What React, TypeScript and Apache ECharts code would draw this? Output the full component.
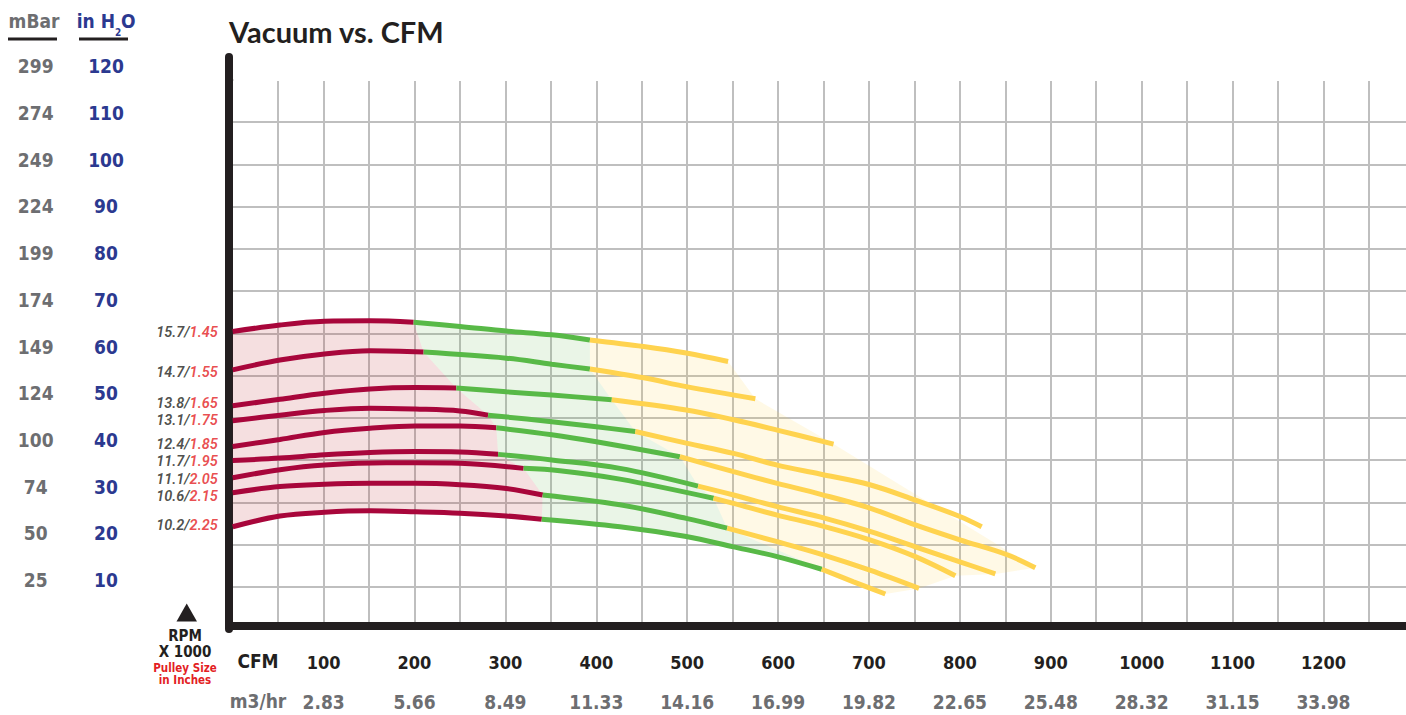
import React, { useEffect, useRef } from 'react';
import * as echarts from 'echarts';

// ---------- data ----------
const cfmTicks = [100, 200, 300, 400, 500, 600, 700, 800, 900, 1000, 1100, 1200];
const cfmLabels = ['100', '200', '300', '400', '500', '600', '700', '800', '900', '1000', '1100', '1200'];
const m3Labels = ['2.83', '5.66', '8.49', '11.33', '14.16', '16.99', '19.82', '22.65', '25.48', '28.32', '31.15', '33.98'];
const inH2OTicks = [10, 20, 30, 40, 50, 60, 70, 80, 90, 100, 110, 120];
const inH2OLabels = ['10', '20', '30', '40', '50', '60', '70', '80', '90', '100', '110', '120'];
const mBarLabels = ['25', '50', '74', '100', '124', '149', '174', '199', '224', '249', '274', '299'];
const rpmLabels = ['15.7', '14.7', '13.8', '13.1', '12.4', '11.7', '11.1', '10.6', '10.2'];
const pulleyLabels = ['1.45', '1.55', '1.65', '1.75', '1.85', '1.95', '2.05', '2.15', '2.25'];

// [CFM, inH2O] per curve (top to bottom)
const redSegments = [
  [[0, 63.2], [52, 64.6], [101, 65.4], [151, 65.5], [199, 65.2]],
  [[0, 55.0], [52, 57.1], [101, 58.4], [151, 59.1], [210, 58.8]],
  [[0, 47.3], [52, 48.7], [101, 50.0], [151, 50.9], [201, 51.2], [246, 51.1]],
  [[0, 44.1], [52, 45.3], [101, 46.3], [151, 46.8], [201, 46.6], [250, 46.2], [281, 45.3]],
  [[0, 38.6], [52, 40.1], [101, 41.6], [151, 42.5], [201, 43.0], [250, 43.0], [290, 42.6]],
  [[0, 35.6], [52, 36.1], [101, 36.8], [151, 37.3], [201, 37.5], [250, 37.4], [292, 36.9]],
  [[0, 31.9], [52, 33.6], [101, 34.6], [169, 35.1], [201, 35.1], [250, 35.0], [320, 33.9]],
  [[0, 28.7], [52, 30.0], [101, 30.5], [151, 30.7], [201, 30.7], [250, 30.4], [301, 29.6], [341, 28.2]],
  [[0, 21.4], [52, 23.7], [101, 24.5], [151, 24.8], [201, 24.6], [250, 24.3], [301, 23.7], [340, 23.0]],
];
const greenSegments = [
  [[199, 65.2], [250, 64.3], [301, 63.3], [351, 62.5], [393, 61.4]],
  [[210, 58.8], [301, 57.5], [351, 56.2], [393, 55.2]],
  [[246, 51.1], [301, 50.3], [351, 49.6], [417, 48.6]],
  [[281, 45.3], [351, 43.9], [400, 42.8], [443, 41.8]],
  [[290, 42.6], [351, 41.1], [400, 39.6], [492, 36.4]],
  [[292, 36.9], [351, 35.7], [426, 33.9], [512, 30.1]],
  [[320, 33.9], [360, 33.4], [426, 31.6], [529, 27.5]],
  [[341, 28.2], [426, 26.1], [499, 23.2], [544, 21.1]],
  [[340, 23.0], [426, 21.4], [499, 19.3], [551, 17.1], [599, 15.0], [648, 12.3]],
];
const yellowSegments = [
  [[393, 61.4], [452, 60.0], [499, 58.6], [545, 56.8]],
  [[393, 55.2], [452, 53.3], [499, 51.4], [575, 48.8]],
  [[417, 48.6], [499, 46.4], [551, 44.3], [599, 42.1], [661, 39.1]],
  [[443, 41.8], [499, 39.3], [551, 37.1], [599, 34.6], [646, 32.7], [701, 30.4], [751, 27.1], [800, 23.6], [824, 21.4]],
  [[492, 36.4], [551, 33.2], [599, 30.7], [646, 28.4], [701, 25.4], [751, 21.8], [800, 18.6], [852, 15.4], [883, 12.6]],
  [[512, 30.1], [551, 28.2], [599, 25.7], [646, 23.5], [701, 20.4], [751, 17.1], [800, 13.9], [839, 11.3]],
  [[529, 27.5], [551, 26.4], [599, 23.9], [646, 21.7], [701, 18.6], [751, 15.0], [795, 10.9]],
  [[544, 21.1], [599, 18.2], [646, 15.6], [701, 12.1], [755, 8.2]],
  [[648, 12.3], [683, 9.6], [718, 7.0]],
];
const yellowHullSkip = [3];

// ---------- styles ----------
const COND = "'Liberation Sans Narrow', 'DejaVu Sans Condensed', 'Arial Narrow', sans-serif";
const RED = '#a8063b';
const GREEN = '#58b947';
const YELLOW = '#ffd34f';
const FILLS = ['rgba(190,40,50,0.15)', 'rgba(90,175,70,0.13)', 'rgba(255,205,60,0.13)'];
const GRID_COLOR = '#bfbfbf';
const INK = '#231f20';
const GRAY = '#6d6e71';
const NAVY = '#2b3990';
const PINKRED = '#e31e24';
const X_MAX = 1290.8; // right edge of the plot (page edge)
// vertical nudges (px) of the curve labels relative to each curve start
const labelNudge = [1, 3, -2, 0, -2, 1, 1.6, 4, -1];

function bandPolygon(segs: number[][][], skipEnds: number[] = []) {
  const n = segs.length;
  const pts: number[][] = [];
  segs[0].forEach((p) => pts.push(p));
  for (let i = 1; i < n - 1; i++) {
    if (!skipEnds.includes(i)) pts.push(segs[i][segs[i].length - 1]);
  }
  for (let j = segs[n - 1].length - 1; j >= 0; j--) pts.push(segs[n - 1][j]);
  for (let i = n - 2; i >= 1; i--) pts.push(segs[i][0]);
  return pts;
}

export default function App() {
  const ref = useRef<HTMLDivElement>(null);

  useEffect(() => {
    document.body.style.margin = '0';
    if (!ref.current) return;
    const chart = echarts.init(ref.current, undefined, { renderer: 'svg' });

    const bands = [
      bandPolygon(redSegments),
      bandPolygon(greenSegments),
      bandPolygon(yellowSegments, yellowHullSkip),
    ];

    const lineSeries: any[] = [];
    const groups: [number[][][], string, string][] = [
      [redSegments, RED, 'red'],
      [greenSegments, GREEN, 'green'],
      [yellowSegments, YELLOW, 'yellow'],
    ];
    groups.forEach(([segs, color, nm]) => {
      segs.forEach((seg, i) => {
        lineSeries.push({
          name: `${rpmLabels[i]}-${nm}`,
          type: 'line',
          xAxisIndex: 0,
          yAxisIndex: 0,
          data: seg,
          smooth: 0.35,
          symbol: 'none',
          showSymbol: false,
          silent: true,
          z: 3,
          lineStyle: { color, width: 5, cap: 'butt' },
        });
      });
    });

    const tickFont = { fontWeight: 'bold', fontFamily: COND };

    const option: any = {
      animation: false,
      grid: { left: 232.7, top: 57, width: 1173.3, height: 572, containLabel: false, outerBoundsMode: 'none' },
      xAxis: [
        {
          type: 'value',
          min: 0,
          max: X_MAX,
          interval: 50,
          position: 'bottom',
          offset: -3.5,
          axisLine: { show: true, onZero: false, lineStyle: { color: INK, width: 8 } },
          axisTick: { show: false },
          splitLine: { show: true, showMinLine: false, showMaxLine: false, lineStyle: { color: GRID_COLOR, width: 2 } },
          axisLabel: {
            customValues: cfmTicks,
            formatter: (v: number) => cfmLabels[Math.round(v / 100) - 1] ?? '',
            margin: 27.5,
            color: INK,
            fontSize: 18,
            lineHeight: 18,
            ...tickFont,
          },
        },
        {
          type: 'value',
          min: 0,
          max: X_MAX,
          position: 'bottom',
          offset: -3.5,
          axisLine: { show: false, onZero: false },
          axisTick: { show: false },
          splitLine: { show: false },
          axisLabel: {
            customValues: cfmTicks,
            formatter: (v: number) => m3Labels[Math.round(v / 100) - 1] ?? '',
            margin: 66.5,
            color: GRAY,
            fontSize: 19,
            lineHeight: 19,
            ...tickFont,
          },
        },
      ],
      yAxis: [
        {
          type: 'value',
          min: -0.5,
          max: 122,
          position: 'left',
          axisLine: { show: false, onZero: false },
          axisTick: { show: false },
          splitLine: { show: false },
          axisLabel: {
            customValues: inH2OTicks,
            formatter: (v: number) => inH2OLabels[Math.round(v / 10) - 1] ?? '',
            margin: 126.7,
            align: 'center',
            color: NAVY,
            fontSize: 19,
            ...tickFont,
          },
        },
        {
          type: 'value',
          min: -0.5,
          max: 122,
          position: 'left',
          axisLine: { show: false, onZero: false },
          axisTick: { show: false },
          splitLine: { show: false },
          axisLabel: {
            customValues: inH2OTicks,
            formatter: (v: number) => mBarLabels[Math.round(v / 10) - 1] ?? '',
            margin: 197,
            align: 'center',
            color: GRAY,
            fontSize: 19,
            ...tickFont,
          },
        },
        {
          type: 'value',
          min: 0,
          max: 13.54,
          interval: 1,
          position: 'left',
          offset: 3.5,
          axisLine: { show: true, onZero: false, lineStyle: { color: INK, width: 8 } },
          axisTick: { show: false },
          axisLabel: { show: false },
          splitLine: { show: true, showMinLine: false, showMaxLine: false, lineStyle: { color: GRID_COLOR, width: 2 } },
        },
      ],
      graphic: [
        { type: 'rect', z: 10, silent: true, shape: { x: 233.5, y: 44, width: 1180, height: 37 }, style: { fill: '#ffffff' } },
        { type: 'text', z: 20, x: 229, y: 31, style: { text: 'Vacuum vs. CFM', fill: INK, font: "bold 29px Lato, 'Open Sans', sans-serif", align: 'left', verticalAlign: 'middle' } },
        { type: 'text', z: 20, x: 34, y: 21, style: { text: 'mBar', fill: GRAY, font: `bold 19px ${COND}`, align: 'center', verticalAlign: 'middle' } },
        { type: 'line', z: 20, shape: { x1: 8, y1: 39, x2: 57, y2: 39 }, style: { stroke: INK, lineWidth: 3 } },
        { type: 'text', z: 20, x: 115, y: 21, style: { text: 'in H', fill: NAVY, font: `bold 19px ${COND}`, align: 'right', verticalAlign: 'middle' } },
        { type: 'text', z: 20, x: 118, y: 32, style: { text: '2', fill: NAVY, font: `bold 10px ${COND}`, align: 'center', verticalAlign: 'middle' } },
        { type: 'text', z: 20, x: 121, y: 21, style: { text: 'O', fill: NAVY, font: `bold 19px ${COND}`, align: 'left', verticalAlign: 'middle' } },
        { type: 'line', z: 20, shape: { x1: 79, y1: 39, x2: 128, y2: 39 }, style: { stroke: INK, lineWidth: 3 } },
        { type: 'polygon', z: 20, shape: { points: [[176.5, 621.5], [197, 621.5], [186.7, 603.5]] }, style: { fill: INK } },
        { type: 'text', z: 20, x: 185, y: 636, style: { text: 'RPM', fill: INK, font: `bold 15px ${COND}`, align: 'center', verticalAlign: 'middle' } },
        { type: 'text', z: 20, x: 185, y: 652, style: { text: 'X 1000', fill: INK, font: `bold 15px ${COND}`, align: 'center', verticalAlign: 'middle' } },
        { type: 'text', z: 20, x: 185, y: 667.5, style: { text: 'Pulley Size', fill: PINKRED, font: `bold 11.5px ${COND}`, align: 'center', verticalAlign: 'middle' } },
        { type: 'text', z: 20, x: 185, y: 679.5, style: { text: 'in Inches', fill: PINKRED, font: `bold 11.5px ${COND}`, align: 'center', verticalAlign: 'middle' } },
        { type: 'text', z: 20, x: 258, y: 661, style: { text: 'CFM', fill: INK, font: `bold 19px ${COND}`, align: 'center', verticalAlign: 'middle' } },
        { type: 'text', z: 20, x: 258, y: 701, style: { text: 'm3/hr', fill: GRAY, font: `bold 19px ${COND}`, align: 'center', verticalAlign: 'middle' } },
      ],
      series: [
        {
          type: 'custom',
          name: 'bands',
          coordinateSystem: 'cartesian2d',
          xAxisIndex: 0,
          yAxisIndex: 0,
          silent: true,
          z: 1,
          data: [[0, 0, 0], [0, 0, 1], [0, 0, 2]],
          encode: { x: 0, y: 1 },
          renderItem: (params: any, api: any) => {
            const k = api.value(2);
            const pts = bands[k].map((p) => api.coord(p));
            return { type: 'polygon', shape: { points: pts }, style: { fill: FILLS[k] }, silent: true };
          },
        },
        ...lineSeries,
        {
          type: 'scatter',
          name: 'labels',
          xAxisIndex: 0,
          yAxisIndex: 0,
          symbolSize: 0,
          silent: true,
          z: 4,
          clip: false,
          data: redSegments.map((seg, i) => ({
            value: seg[0],
            label: { offset: [0, labelNudge[i]] },
          })),
          label: {
            show: true,
            position: 'left',
            distance: 15,
            formatter: (p: any) => `{a|${rpmLabels[p.dataIndex]}/}{b|${pulleyLabels[p.dataIndex]}}`,
            rich: {
              a: { color: INK, fontSize: 14.5, lineHeight: 15, fontStyle: 'italic', fontWeight: 600, fontFamily: 'Roboto, sans-serif' },
              b: { color: PINKRED, fontSize: 14.5, lineHeight: 15, fontStyle: 'italic', fontWeight: 600, fontFamily: 'Roboto, sans-serif' },
            },
          },
        },
      ],
    };

    chart.setOption(option);
    return () => chart.dispose();
  }, []);

  return <div ref={ref} style={{ width: 1406, height: 715 }} />;
}
